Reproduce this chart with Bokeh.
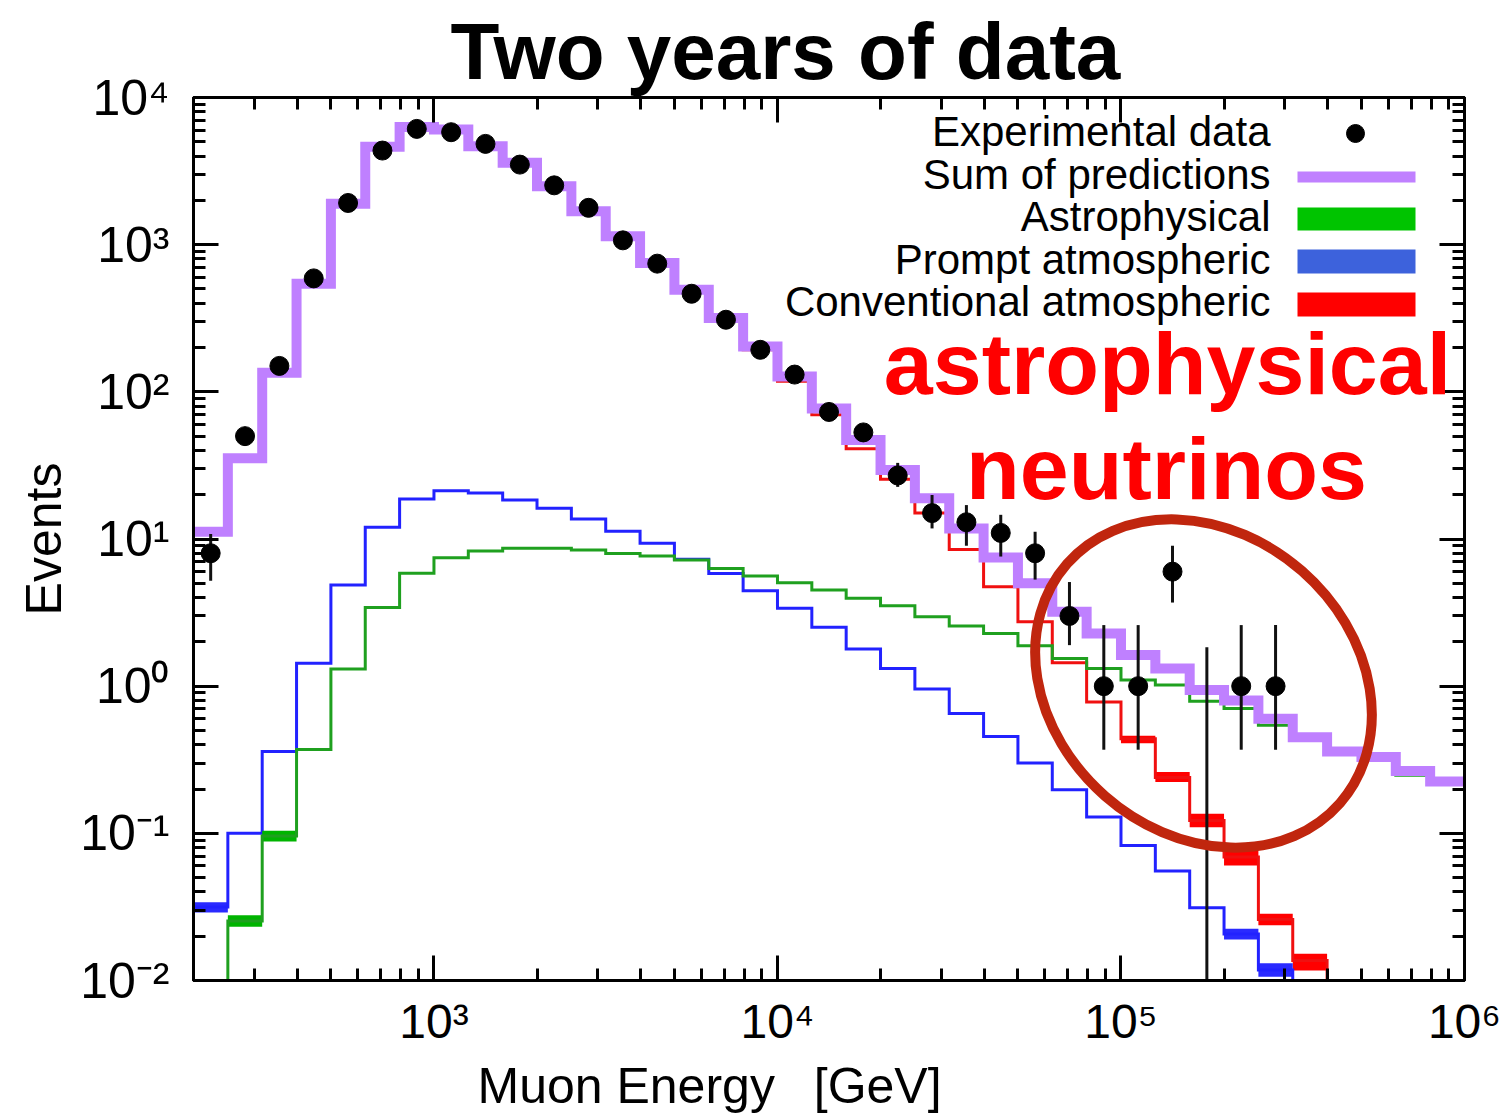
import numpy as np
from bokeh.plotting import figure
from bokeh.models import Range1d, FixedTicker, LogAxis, Label, BoxAnnotation, Title
from bokeh.embed import file_html
from bokeh.resources import INLINE

# ---------------------------------------------------------------------------
# Histogram binning: log10(E_mu / GeV), 0.1 decade wide bins
log_e_edges = [2.3, 2.4, 2.5, 2.6, 2.7, 2.8, 2.9, 3.0, 3.1, 3.2, 3.3, 3.4, 3.5,
               3.6, 3.7, 3.8, 3.9, 4.0, 4.1, 4.2, 4.3, 4.4, 4.5, 4.6, 4.7, 4.8,
               4.9, 5.0, 5.1, 5.2, 5.3, 5.4, 5.5, 5.6, 5.7, 5.8, 5.9, 6.0]

# Expected events per bin for each flux component
conventional = [11.2, 35.3, 134.5, 541, 1894, 4615, 6285, 6020, 4640, 3573,
                2465, 1668, 1121, 733, 480, 305, 193, 118, 70, 41,
                25.5, 15.0, 8.5, 4.74, 2.74, 1.44, 0.78, 0.44, 0.24, 0.122,
                0.069, 0.026, 0.0137, 0.004, 0.003, 0.002, 0.001]
prompt = [0.0316, 0.1, 0.36, 1.43, 4.87, 12.0, 18.7, 21.3, 20.5, 18.4,
          16.2, 13.7, 11.3, 9.35, 7.28, 5.84, 4.45, 3.38, 2.51, 1.79,
          1.32, 0.955, 0.652, 0.455, 0.301, 0.198, 0.129, 0.0828, 0.0554, 0.0312,
          0.0207, 0.0118, 0.006, 0.004, 0.003, 0.002, 0.0015]
astrophysical = [0.005, 0.0254, 0.096, 0.371, 1.31, 3.43, 5.85, 7.46, 8.28, 8.64,
                 8.64, 8.42, 7.98, 7.65, 7.19, 6.31, 5.60, 5.04, 4.50, 3.95,
                 3.52, 2.96, 2.56, 2.28, 1.88, 1.54, 1.32, 1.10, 1.02, 0.79,
                 0.705, 0.543, 0.434, 0.348, 0.317, 0.248, 0.215]
total_prediction = [11.2, 35.4, 135, 543, 1900, 4630, 6310, 6050, 4670, 3600,
                    2490, 1690, 1140, 750, 494, 317, 203, 127, 77, 47,
                    29.4, 18.9, 11.8, 7.5, 5.0, 3.2, 2.28, 1.63, 1.32, 0.94,
                    0.80, 0.60, 0.45, 0.36, 0.33, 0.265, 0.225]

# Monte Carlo uncertainty bands (bin index, lower, upper)
conv_band_bins = [27, 28, 29, 30, 31, 32]
conv_band_low = [0.41, 0.223, 0.110, 0.0605, 0.0237, 0.0117]
conv_band_high = [0.46, 0.261, 0.136, 0.0766, 0.0284, 0.0152]
prompt_band_bins = [0, 30, 31]
prompt_band_low = [0.029, 0.019, 0.0106]
prompt_band_high = [0.034, 0.0225, 0.0131]
astro_band_bins = [1, 2]
astro_band_low = [0.0232, 0.088]
astro_band_high = [0.0278, 0.104]

# Observed events in the first 32 bins (bin 29 is empty: upper limit only)
data_events = [8, 50, 150, 590, 1920, 4360, 6120, 5810, 4840, 3500,
               2530, 1780, 1070, 743, 464, 309, 193, 131, 73, 53,
               27, 15, 13, 11, 8, 3, 1, 1, 6, float("nan"),
               1, 1]
data_err_low = [5.2, 43, 138, 566, 1876, 4294, 6042, 5734, 4770, 3441,
                2480, 1738, 1037, 716, 442, 291, 179, 120, 64.5, 45.7,
                22.6, 11.8, 9.0, 7.6, 5.3, 1.9, 0.37, 0.37, 3.7, 0.001,
                0.37, 0.37]
data_err_high = [10.8, 57, 162, 614, 1964, 4426, 6198, 5886, 4910, 3559,
                 2580, 1822, 1103, 770, 486, 327, 207, 142, 81.5, 60.3,
                 32.9, 19.9, 17.0, 14.6, 11.2, 5.1, 2.6, 2.6, 9.0, 1.84,
                 2.6, 2.6]

# Axis ticks
x_tick_values = [1000, 10000, 100000, 1000000]
x_tick_labels = ["10\u00b3", "10\u2074", "10\u2075", "10\u2076"]
y_tick_values = [0.01, 0.1, 1, 10, 100, 1000, 10000]
y_tick_labels = ["10\u207b\u00b2", "10\u207b\u00b9", "10\u2070", "10\u00b9",
                 "10\u00b2", "10\u00b3", "10\u2074"]

legend_labels = ["Experimental data", "Sum of predictions", "Astrophysical",
                 "Prompt atmospheric", "Conventional atmospheric"]

# ---------------------------------------------------------------------------
W, H = 1509, 1119
FRAME_L, FRAME_R, FRAME_T, FRAME_B = 193, 1464, 97, 980
LOG_X0, LOG_X1 = 2.3, 6.0
LOG_Y0, LOG_Y1 = -2.0, 4.0
FONT = "Liberation Sans"
BASELINE_SHIFT = 0.38   # label anchor sits this fraction of the font size below the anchor y


def x_at(px):
    return 10 ** (LOG_X0 + (px - FRAME_L) / (FRAME_R - FRAME_L) * (LOG_X1 - LOG_X0))


def y_at(py):
    return 10 ** (LOG_Y1 - (py - FRAME_T) / (FRAME_B - FRAME_T) * (LOG_Y1 - LOG_Y0))


p = figure(width=W, height=H, x_axis_type="log", y_axis_type="log",
           x_range=Range1d(10 ** LOG_X0, 10 ** LOG_X1),
           y_range=Range1d(10 ** LOG_Y0, 10 ** LOG_Y1),
           output_backend="svg", toolbar_location=None,
           min_border_left=FRAME_L, min_border_right=W - FRAME_R,
           min_border_top=FRAME_T, min_border_bottom=H - FRAME_B)
p.xgrid.visible = False
p.ygrid.visible = False
p.outline_line_color = "black"
p.outline_line_width = 3
p.background_fill_color = "white"
p.border_fill_color = "white"

x_minor = [m * 10 ** k for k in range(2, 6) for m in range(2, 10) if 10 ** LOG_X0 < m * 10 ** k < 10 ** LOG_X1]
y_minor = [m * 10.0 ** k for k in range(-2, 4) for m in range(2, 10)]
x_ticker = FixedTicker(ticks=x_tick_values, minor_ticks=x_minor)
y_ticker = FixedTicker(ticks=y_tick_values, minor_ticks=y_minor)


def style_axis(ax):
    ax.axis_line_color = "black"
    ax.axis_line_width = 3
    ax.major_tick_in = 25
    ax.major_tick_out = 0
    ax.major_tick_line_width = 3
    ax.minor_tick_in = 12
    ax.minor_tick_out = 0
    ax.minor_tick_line_width = 3
    ax.major_label_text_font = FONT
    ax.major_label_text_color = "black"


xax = p.xaxis[0]
xax.ticker = x_ticker
style_axis(xax)
xax.major_label_overrides = dict(zip(x_tick_values, x_tick_labels))
xax.major_label_text_font_size = "48px"
xax.major_label_standoff = 14

yax = p.yaxis[0]
yax.ticker = y_ticker
style_axis(yax)
yax.major_label_overrides = dict(zip(y_tick_values, y_tick_labels))
yax.major_label_text_font_size = "50px"
yax.major_label_standoff = 24
yax.axis_label = "Events"
yax.axis_label_text_font = FONT
yax.axis_label_text_font_size = "50px"
yax.axis_label_text_font_style = "normal"
yax.axis_label_text_color = "black"
yax.axis_label_standoff = 5

# mirrored tick marks on the top and right edges of the frame
for ticker, side in [(x_ticker, "above"), (y_ticker, "right")]:
    mirror = LogAxis(ticker=ticker)
    style_axis(mirror)
    mirror.major_label_text_font_size = "1px"
    mirror.major_label_text_alpha = 0.0
    mirror.major_label_standoff = 0
    p.add_layout(mirror, side)

# chart title and x-axis title live in the border panels
p.add_layout(Title(text="Two years of data", align="left", offset=257,
                   text_font=FONT, text_font_size="80px", text_font_style="bold",
                   text_color="black", standoff=4), "above")
p.add_layout(Title(text="Muon Energy\u2002\u00a0[GeV]", align="left", offset=284,
                   text_font=FONT, text_font_size="50px", text_font_style="normal",
                   text_color="black", standoff=10), "below")

# ---------------------------------------------------------------------------
edges = 10 ** np.array(log_e_edges)
step_x = np.repeat(edges, 2)[1:-1]


def step_y(vals):
    return np.repeat(np.asarray(vals, dtype=float), 2)


def band(bins, low, high, color):
    idx = np.array(bins)
    p.quad(left=edges[idx], right=edges[idx + 1], bottom=low, top=high,
           fill_color=color, line_color=None)


RED, BLUE, GREEN, PURPLE = "#f01010", "#2222ff", "#1fa01f", "#bf80ff"

band(conv_band_bins, conv_band_low, conv_band_high, "#ff0000")
p.line(step_x, step_y(conventional), line_color=RED, line_width=3, line_join="miter")
band(prompt_band_bins, prompt_band_low, prompt_band_high, "#2a2aff")
p.line(step_x, step_y(prompt), line_color=BLUE, line_width=3, line_join="miter")
band(astro_band_bins, astro_band_low, astro_band_high, "#00b400")
p.line(step_x, step_y(astrophysical), line_color=GREEN, line_width=3, line_join="miter")
p.line(step_x, step_y(total_prediction), line_color=PURPLE, line_width=10,
       line_join="miter")

n_data = len(data_events)
centers = np.sqrt(edges[:n_data] * edges[1:n_data + 1])
p.segment(x0=centers, y0=data_err_low, x1=centers, y1=data_err_high,
          line_color="#111111", line_width=3)
p.scatter(centers, data_events, size=19, fill_color="black", line_color="black")

# highlight of the high-energy excess
p.ellipse(x=[x_at(1203)], y=[y_at(683)], width=[363], height=[299],
          width_units="screen", height_units="screen", angle=-0.72,
          fill_color=None, line_color="#c0260e", line_width=10)


def canvas_label(text, x, baseline, size, align="left", bold=False, color="black"):
    p.add_layout(Label(x=x, y=baseline - BASELINE_SHIFT * size,
                       x_units="canvas", y_units="canvas", text=text,
                       text_align=align, text_baseline="alphabetic",
                       text_font=FONT, text_font_size=f"{size}px",
                       text_font_style="bold" if bold else "normal",
                       text_color=color))


# ---------------------------------------------------------------------------
# legend (labels on the left, keys on the right)
legend_baselines = [147, 190, 232, 275, 317]
for text, yb in zip(legend_labels, legend_baselines):
    canvas_label(text, 1270, yb, 42, align="right")
p.scatter([x_at(1355)], [y_at(133)], size=18, fill_color="black", line_color="black")
for top, bottom, color in [(171, 182, "#c080ff"), (207, 230, "#00c400"),
                           (249, 273, "#3d62dc"), (292, 316, "#ff0000")]:
    p.add_layout(BoxAnnotation(left=1297, right=1415, top=top, bottom=bottom,
                               left_units="canvas", right_units="canvas",
                               top_units="canvas", bottom_units="canvas",
                               fill_color=color, fill_alpha=1.0, line_color=None))

# annotation of the excess
canvas_label("astrophysical", 1167, 396, 88, align="center", bold=True, color="#ff0000")
canvas_label("neutrinos", 1166, 501, 88, align="center", bold=True, color="#ff0000")

open("out.html", "w").write(file_html(p, INLINE))
